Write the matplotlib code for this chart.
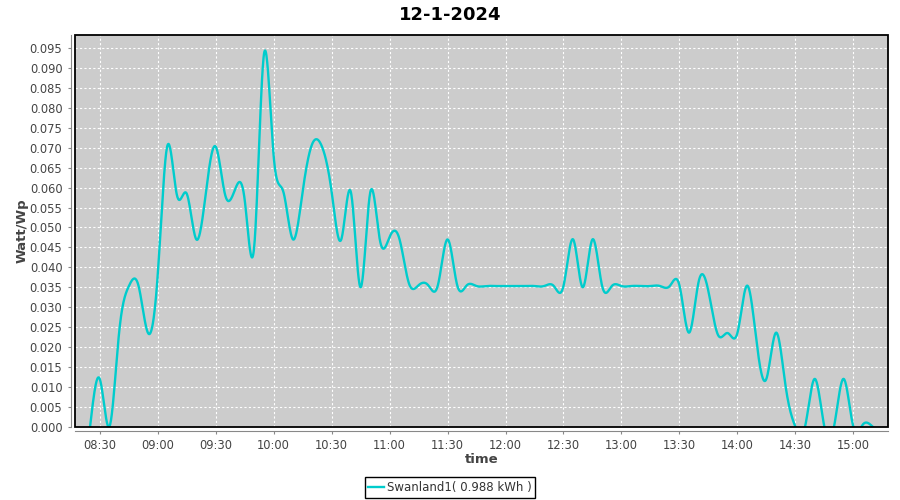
import numpy as np
import pandas as pd
import matplotlib
matplotlib.use("Agg")
import matplotlib.pyplot as plt
import matplotlib.dates as mdates
from matplotlib.patches import Rectangle
from matplotlib.ticker import FormatStrFormatter

title = "12-1-2024"
series_name = "Swanland1( 0.988 kWh )"
start = "2024-01-12 08:25"
step = "5min"

# one reading every 5 minutes, 08:25 .. 15:10
watt_wp = [
    0.0, 0.012, 0.0, 0.0235, 0.0352, 0.0355, 0.0235, 0.038,            # 08:25-09:00
    0.0705, 0.058, 0.0585, 0.047, 0.059, 0.0703, 0.058, 0.0595,        # 09:05-09:40
    0.057, 0.0455, 0.0935, 0.068, 0.059, 0.047, 0.059, 0.071,          # 09:45-10:20
    0.0703, 0.059, 0.047, 0.0588, 0.035, 0.0588, 0.0468, 0.0476,       # 10:25-11:00
    0.0473, 0.036, 0.0355, 0.0355, 0.0355, 0.047, 0.0355, 0.0355,      # 11:05-11:40
    0.0353, 0.0353, 0.0353, 0.0353, 0.0353, 0.0353, 0.0353, 0.0353,    # 11:45-12:20
    0.0353, 0.0353, 0.047, 0.035, 0.047, 0.0353, 0.0353, 0.0353,       # 12:25-13:00
    0.0353, 0.0353, 0.0353, 0.0353, 0.0353, 0.0355, 0.0236, 0.0365,    # 13:05-13:40
    0.034, 0.023, 0.0235, 0.0235, 0.0354, 0.021, 0.012, 0.0236,        # 13:45-14:20
    0.010, 0.0, 0.0, 0.012, 0.0, 0.0, 0.012, 0.0,                      # 14:25-15:00
    0.0006, 0.0,                                                       # 15:05-15:10
]

times = pd.date_range(start, periods=len(watt_wp), freq=step)


def spline(x, y, n=24):
    # natural cubic spline through every point (the original uses a spline renderer)
    x = np.asarray(x, float)
    y = np.asarray(y, float)
    h = np.diff(x)
    k = len(x)
    A = np.zeros((k, k))
    r = np.zeros(k)
    A[0, 0] = A[-1, -1] = 1
    for i in range(1, k - 1):
        A[i, i - 1] = h[i - 1]
        A[i, i] = 2 * (h[i - 1] + h[i])
        A[i, i + 1] = h[i]
        r[i] = 3 * ((y[i + 1] - y[i]) / h[i] - (y[i] - y[i - 1]) / h[i - 1])
    c = np.linalg.solve(A, r)
    xs, ys = [], []
    for i in range(k - 1):
        t = np.linspace(0, h[i], n, endpoint=False)
        b = (y[i + 1] - y[i]) / h[i] - h[i] * (2 * c[i] + c[i + 1]) / 3
        d = (c[i + 1] - c[i]) / (3 * h[i])
        xs.append(x[i] + t)
        ys.append(y[i] + b * t + c[i] * t ** 2 + d * t ** 3)
    xs.append([x[-1]])
    ys.append([y[-1]])
    return np.concatenate(xs), np.concatenate(ys)


t0 = mdates.date2num(times[0])
minutes = (mdates.date2num(times) - t0) * 1440
sx, sy = spline(minutes, watt_wp)
sx = t0 + sx / 1440

fig = plt.figure(figsize=(9, 5), dpi=100)
ax = fig.add_axes([75 / 900, 1 - 426.7 / 500, 813.3 / 900, 391.7 / 500])
ax.set_facecolor("#cccccc")

line, = ax.plot(sx, sy, color="#00cccc", lw=1.7, zorder=3)

ax.set_xlim(mdates.date2num(pd.Timestamp("2024-01-12 08:17:12")),
            mdates.date2num(pd.Timestamp("2024-01-12 15:18:06")))
ax.set_ylim(0, 0.0983)
ax.set_yticks(np.arange(0, 0.0951, 0.005))
ax.yaxis.set_major_formatter(FormatStrFormatter("%.3f"))
ax.xaxis.set_major_locator(mdates.MinuteLocator(byminute=[0, 30]))
ax.xaxis.set_major_formatter(mdates.DateFormatter("%H:%M"))

ax.grid(True, color="white", linestyle=(0, (2, 2)), linewidth=0.8)
ax.set_axisbelow(True)

for s in ["top", "right"]:
    ax.spines[s].set_visible(False)
for s in ["left", "bottom"]:
    ax.spines[s].set_color("#888888")
    ax.spines[s].set_position(("outward", 3))
ax.tick_params(direction="out", length=2.5, width=0.8, color="#888888",
               labelcolor="#444444", labelsize=8.3)
ax.add_patch(Rectangle((0, 0), 1, 1, transform=ax.transAxes, fill=False,
                       edgecolor="black", lw=1.3, clip_on=False, zorder=5))

fig.text(0.5, 1 - 15 / 500, title, ha="center", va="center",
         fontsize=13, fontweight="bold", color="black")
ax.set_xlabel("time", fontsize=9.5, fontweight="bold", color="#444444", va="center")
ax.xaxis.set_label_coords(0.5, -0.085)
ax.set_ylabel("Watt/Wp", fontsize=9.5, fontweight="bold", color="#444444",
              va="center", ha="center")
ax.yaxis.set_label_coords(-0.065, 0.5)

leg = fig.legend([line], [series_name], loc="center",
                 bbox_to_anchor=(450 / 900, 1 - 487.5 / 500), fontsize=8.5,
                 frameon=True, fancybox=False, framealpha=1, edgecolor="black",
                 handlelength=1.3, handletextpad=0.3, borderpad=0.3,
                 borderaxespad=0)
leg.get_frame().set_linewidth(1.0)
for t in leg.get_texts():
    t.set_color("#333333")

fig.savefig("out.png", dpi=100)
